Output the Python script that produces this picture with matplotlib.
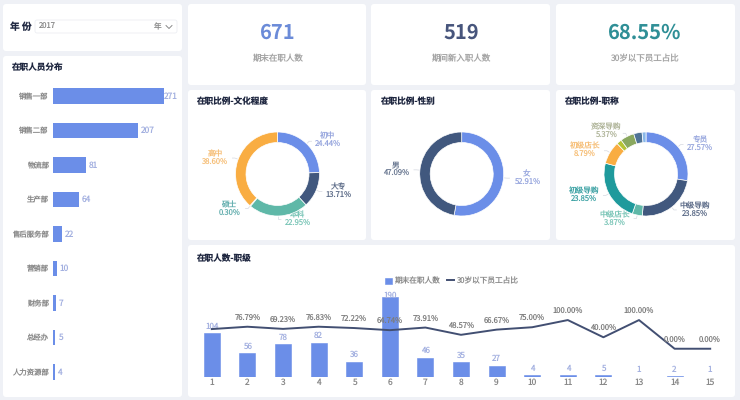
import matplotlib
matplotlib.use("Agg")
import matplotlib.pyplot as plt
from matplotlib.patches import FancyBboxPatch
import numpy as np

plt.rcParams["font.family"] = ["Noto Sans CJK SC", "DejaVu Sans"]
plt.rcParams["text.hinting"] = "none"

W, H = 740, 400

# data
depts = ["销售一部", "销售二部", "物流部", "生产部", "售后服务部", "营销部", "财务部", "总经办", "人力资源部"]
dept_counts = [271, 207, 81, 64, 22, 10, 7, 5, 4]

kpi_values = ["671", "519", "68.55%"]
kpi_labels = ["期末在职人数", "期间新入职人数", "30岁以下员工占比"]

edu_names = ["初中", "大专", "本科", "硕士", "高中"]
edu_pct = [24.44, 13.71, 22.95, 0.30, 38.60]

sex_names = ["女", "男"]
sex_pct = [52.91, 47.09]

title_names = ["专员", "中级导购", "中级店长", "初级导购", "初级店长", "", "资深导购", "", ""]
title_pct = [27.57, 23.85, 3.87, 23.85, 8.79, 2.0, 5.37, 3.2, 1.5]

levels = [str(i) for i in range(1, 16)]
level_counts = [104, 56, 78, 82, 36, 190, 46, 35, 27, 4, 4, 5, 1, 2, 1]
level_young = [68.6, 76.79, 69.23, 76.83, 72.22, 64.74, 73.91, 48.57, 66.67, 75.00, 100.00, 40.00, 100.00, 0.00, 0.00]

# colours
BG = "#eff1f6"
BLUE = "#6b8ee8"
NAVY = "#41587e"
GREEN = "#5fb8a8"
TEAL = "#1f9a9c"
ORANGE = "#f9ad42"
TITLE_C = "#1f2740"
GREY = "#8a8a8a"


def px_axes(left, top, right, bottom, **kw):
    return fig.add_axes([left / W, 1 - bottom / H, (right - left) / W, (bottom - top) / H], **kw)


def card(x0, y0, x1, y1):
    bg.add_patch(FancyBboxPatch((x0, y0), x1 - x0, y1 - y0, boxstyle="round,pad=0,rounding_size=3",
                                fc="white", ec="none"))


def donut(cx, cy, pct, colors, names, label_xy, label_colors):
    ax = px_axes(cx - 60, cy - 60, cx + 60, cy + 60)
    wedges, _ = ax.pie(pct, radius=42, colors=colors, startangle=90, counterclock=False,
                       wedgeprops={"width": 10.5, "edgecolor": "white", "linewidth": 0.5})
    ax.set_xlim(-60, 60)
    ax.set_ylim(-60, 60)
    ax.patch.set_alpha(0)
    for w, name, v, xy, c in zip(wedges, names, pct, label_xy, label_colors):
        if not name:
            continue
        # leader line from the slice to its label
        a = np.radians((w.theta1 + w.theta2) / 2)
        x0, y0 = 43 * np.cos(a), 43 * np.sin(a)
        x1, y1 = 45.5 * np.cos(a), 45.5 * np.sin(a)
        x2 = x1 + (2.5 if np.cos(a) > 0 else -2.5)
        ax.plot([x0, x1, x2], [y0, y1, y1], color="#d5d8e0", lw=0.5, clip_on=False)
        bg.text(xy[0], xy[1], f"{name}\n{v:.2f}%", color=c, fontsize=5.5, ha="center", va="center",
                linespacing=1.1)


fig = plt.figure(figsize=(W / 100, H / 100), dpi=100, facecolor=BG)
bg = fig.add_axes([0, 0, 1, 1])
bg.set_xlim(0, W)
bg.set_ylim(H, 0)
bg.axis("off")

for box in [(3, 4, 182, 51), (3, 56, 182, 397), (188, 4, 366, 85), (371, 4, 550, 85), (556, 4, 735, 85),
            (188, 90, 366, 240), (371, 90, 550, 240), (556, 90, 735, 240), (188, 245, 735, 397)]:
    card(*box)

# year selector
bg.text(9.5, 27, "年 份", fontsize=7, fontweight="bold", color=TITLE_C, va="center")
bg.add_patch(FancyBboxPatch((35, 20), 142, 13, boxstyle="round,pad=0,rounding_size=2", fc="white", ec="#eceef3", lw=0.6))
bg.text(39, 27, "2017", fontsize=5.5, color=GREY, va="center")
bg.text(158, 27.5, "年", fontsize=5.5, color=GREY, va="center", ha="center")
bg.plot([166, 169, 172], [25.5, 28.5, 25.5], color="#777777", lw=0.6)

# titles
for x, y, t in [(12, 67, "在职人员分布"), (197, 102, "在职比例-文化程度"), (381, 102, "在职比例-性别"),
                (565, 102, "在职比例-职称"), (197, 258, "在职人数-职级")]:
    bg.text(x, y, t, fontsize=6.2, fontweight="bold", color=TITLE_C, va="center")

# kpi cards
for cx, v, lab, c in zip([278, 461.5, 645], kpi_values, kpi_labels, ["#6b8bd8", "#47557c", "#2f8f96"]):
    bg.text(cx, 33, v, fontsize=14.5, fontweight="bold", color=c, ha="center", va="center")
    bg.text(cx, 58.5, lab, fontsize=6.1, color="#a5a5a5", ha="center", va="center")

# department bars
ax1 = px_axes(53, 78.75, 170, 389.25)
ax1.patch.set_alpha(0)
ypos = np.arange(len(depts))
ax1.barh(ypos, dept_counts, height=0.46, color=BLUE)
ax1.set_xlim(0, 285.6)
ax1.set_ylim(8.5, -0.5)
ax1.set_yticks(ypos, depts)
ax1.set_xticks([])
ax1.tick_params(axis="y", length=0, pad=3, labelsize=5.3, labelcolor=GREY)
for s in ax1.spines.values():
    s.set_visible(False)
for y, v in zip(ypos, dept_counts):
    off = 0 if v == max(dept_counts) else 2
    ax1.annotate(str(v), (v, y), xytext=(off, 0), textcoords="offset points", fontsize=6, color="#a3b0e0",
                 va="center", annotation_clip=False)

# donuts
donut(277.5, 174, edu_pct, [BLUE, NAVY, GREEN, TEAL, ORANGE], edu_names,
      [(328, 140.5), (339, 191.5), (298, 219), (230, 209), (215, 158)],
      ["#98a7de", "#5f6e8a", "#7cc6b8", "#63aeae", "#f6bf78"])
donut(461.7, 174, sex_pct, [BLUE, NAVY], sex_names,
      [(527, 178), (396, 169)], ["#98a7de", "#6c7a93"])
donut(646, 174, title_pct,
      [BLUE, NAVY, GREEN, TEAL, ORANGE, "#b5c334", "#8aa85f", "#4f7396", "#8ab8e8"], title_names,
      [(700, 144), (695, 210), (615, 219), (584, 195), (585, 150), (0, 0), (606, 131), (0, 0), (0, 0)],
      ["#98a7de", "#5f6e8a", "#7cc6b8", "#3fa3a5", "#f6bf78", "#999999", "#b0b59a", "#999999", "#999999"])

# level bars and line
ax2 = px_axes(194, 290, 728, 377)
ax2.patch.set_alpha(0)
xpos = np.arange(len(levels))
# thin edge so the very small bars still show as a line
bars = ax2.bar(xpos, level_counts, width=0.45, color=BLUE, edgecolor=BLUE, linewidth=0.4, label="期末在职人数")
ax2.set_xlim(-0.5, 14.5)
ax2.set_ylim(0, 207)
ax2.set_xticks(xpos, levels)
ax2.set_yticks([])
ax2.tick_params(axis="x", length=0, pad=1, labelsize=6, labelcolor=GREY)
for s in ax2.spines.values():
    s.set_visible(False)

ax3 = ax2.twinx()
ax3.patch.set_alpha(0)
line, = ax3.plot(xpos, level_young, color="#424f72", lw=1.4, label="30岁以下员工占比")
ax3.set_ylim(-98.6, 204.9)
ax3.set_yticks([])
for s in ax3.spines.values():
    s.set_visible(False)

for x, v in zip(xpos, level_counts):
    off = 1 if v == max(level_counts) else 5
    ax2.annotate(str(v), (x, v), xytext=(0, off), textcoords="offset points", fontsize=5.8, color="#a3b0e0",
                 ha="center", va="center", annotation_clip=False)
for x, v in zip(xpos[1:], level_young[1:]):
    ax3.annotate(f"{v:.2f}%", (x, v), xytext=(0, 6), textcoords="offset points", fontsize=5.5, color="#7d7d7d",
                 ha="center", va="center", annotation_clip=False)

ax3.legend([bars, line], ["期末在职人数", "30岁以下员工占比"], loc="center", ncol=2,
           bbox_to_anchor=(452 / W, 1 - 281 / H), bbox_transform=fig.transFigure, frameon=False,
           fontsize=5.5, labelcolor=GREY, handlelength=0.9, handleheight=0.9, handletextpad=0.4,
           columnspacing=0.9, borderpad=0)

fig.savefig("out.png", dpi=100, facecolor=BG)
